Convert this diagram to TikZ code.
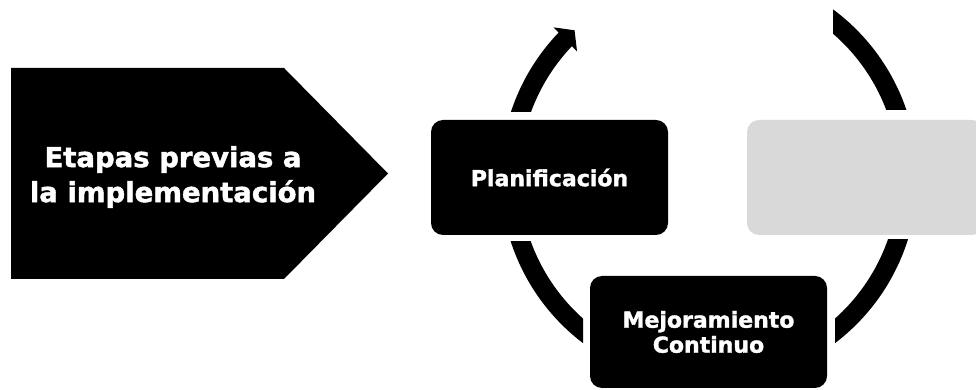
\documentclass[tikz,border=0pt]{standalone}
\usepackage{fontspec}
\setmainfont{DejaVu Sans}[BoldFeatures={FakeBold=1.6}]
\usetikzlibrary{arrows.meta,bending}
\begin{document}
\begin{tikzpicture}[x=1pt,y=1pt,
  box/.style={fill=black, rounded corners=12pt, minimum width=237pt, minimum height=115pt,
    inner sep=0pt, text=white, font=\bfseries\fontsize{22}{25}\selectfont, align=center},
  ring/.style={line width=19pt, line cap=butt, draw=black}]
\useasboundingbox (0,0) rectangle (976,390);
\fill[white] (0,0) rectangle (976,390);
% left pentagon
\fill[black] (11,322) -- (284,322) -- (388,216.5) -- (284,111) -- (11,111) -- cycle;
\node[font=\bfseries\fontsize{27.5}{35}\selectfont, text=white, align=center] (etapas) at (173,213)
  {Etapas previas a\\la implementación};
% cycle ring
\coordinate (c) at (709,213);
\begin{scope}
  \clip (400,278) rectangle (620,390);
  \draw[ring, -{Triangle[width=33pt,length=13pt]}] ([shift={(170:199)}]c) arc[start angle=170, end angle=132.5, radius=199];
\end{scope}
\begin{scope}
  \clip (833,280) rectangle (976,390);
  \draw[ring] ([shift={(60:199)}]c) arc[start angle=60, end angle=5, radius=199];
\end{scope}
\begin{scope}
  \clip (835,0) rectangle (976,150);
  \draw[ring] ([shift={(-5:199)}]c) arc[start angle=-5, end angle=-65, radius=199];
\end{scope}
\begin{scope}
  \clip (400,0) rectangle (583,148);
  \draw[ring] ([shift={(185:199)}]c) arc[start angle=185, end angle=245, radius=199];
\end{scope}
% boxes
\node[box] (plan) at (549.5,212.5) {Planificación};
\node[box, minimum height=112pt] (mejora) at (708.5,58) {Mejoramiento\\Continuo};
\node[box, fill=black!15] (gris) at (865.5,212.5) {};
\end{tikzpicture}
\end{document}
